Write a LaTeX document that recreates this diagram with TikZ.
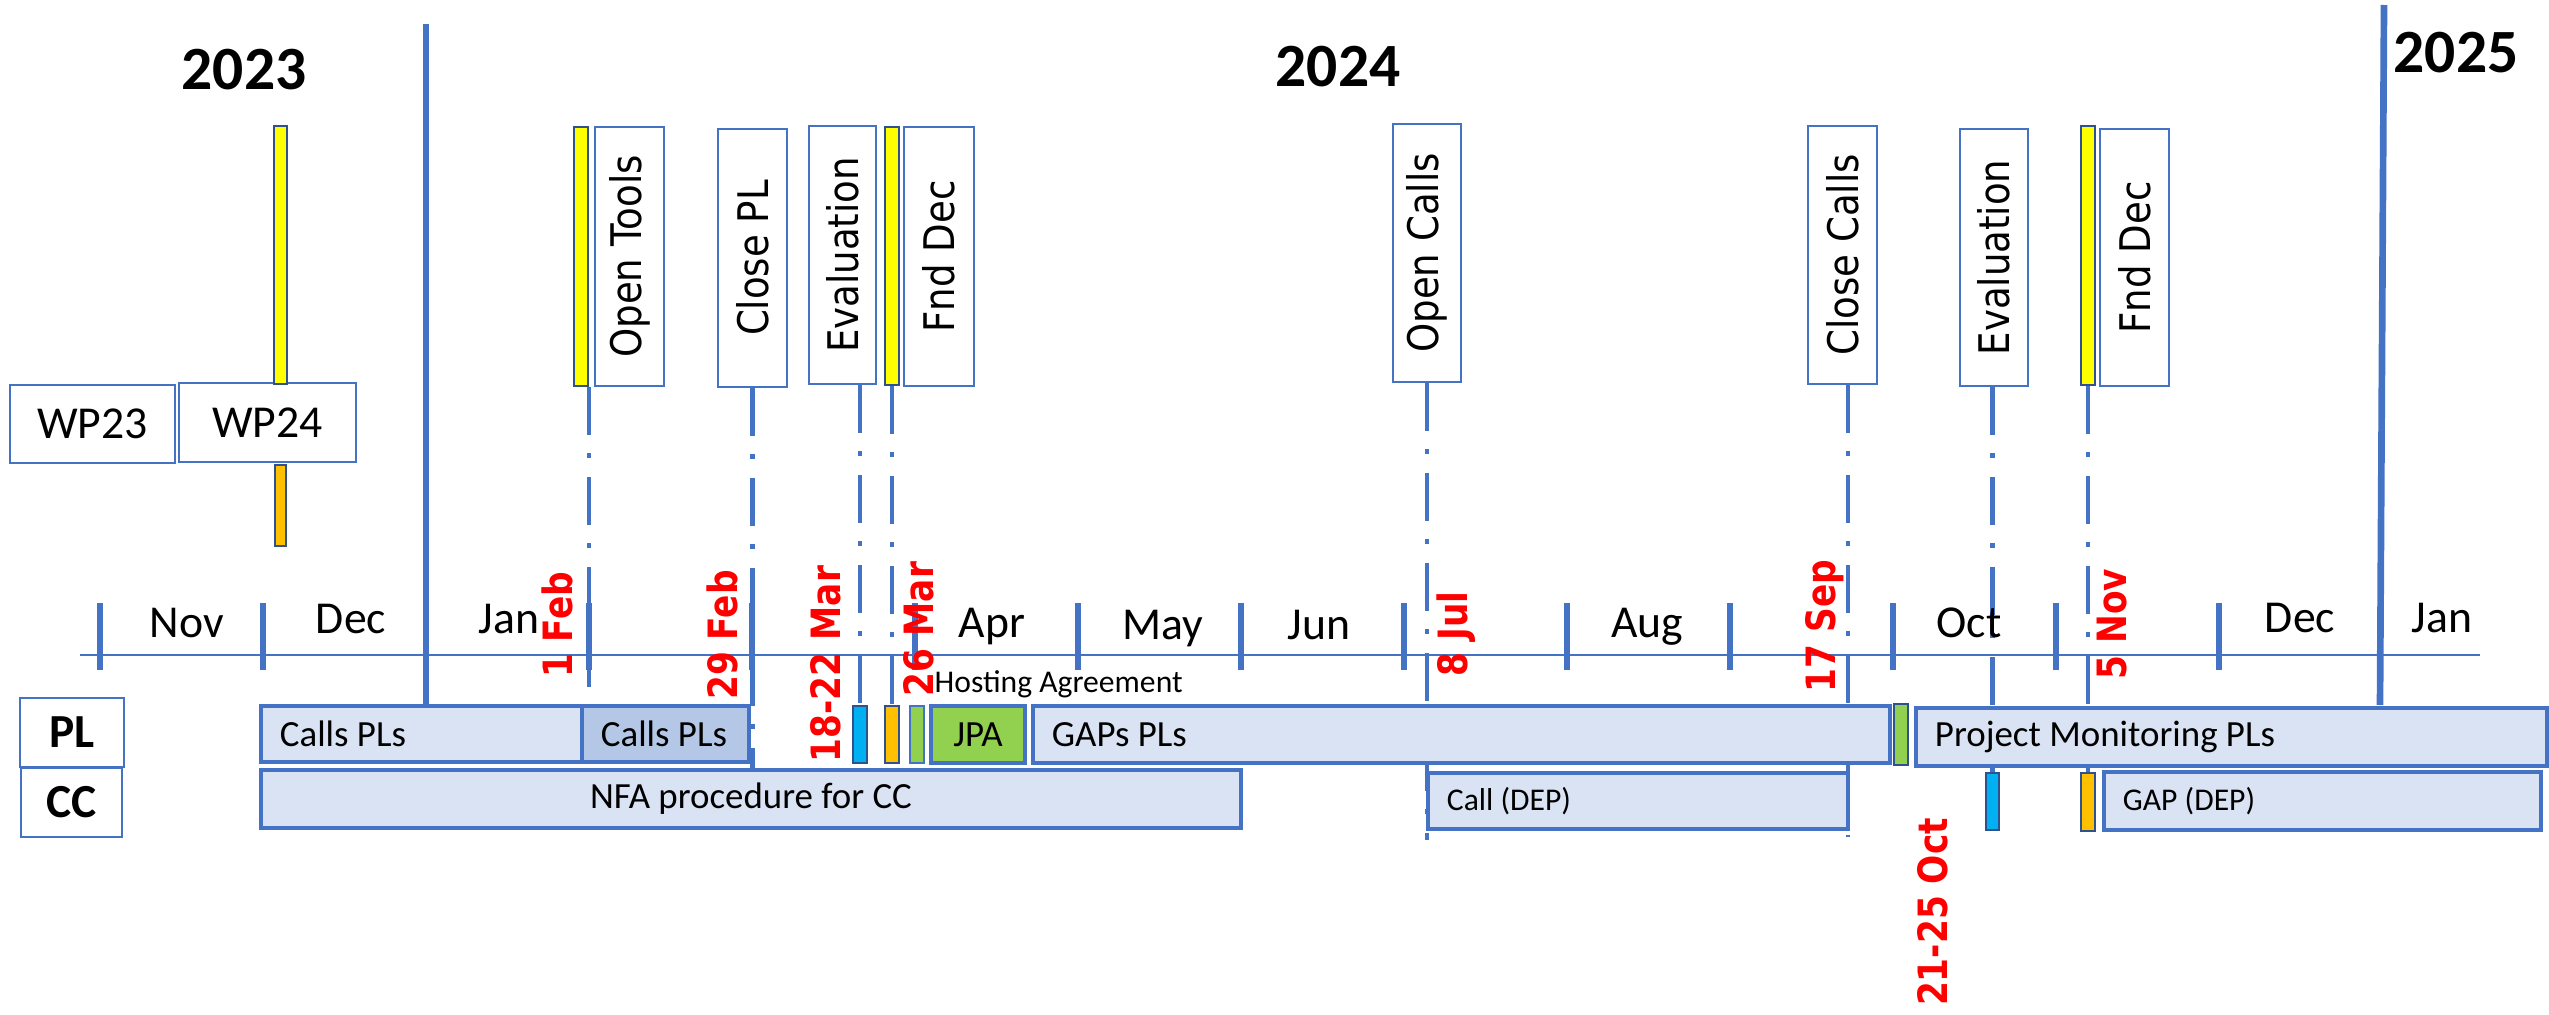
\documentclass[tikz,border=0pt]{standalone}
\usepackage{fontspec}
\setmainfont{Carlito}
\newfontfamily\labelfont[FakeStretch=0.88]{DejaVu Sans}
\newfontfamily\datefont[FakeStretch=0.85]{DejaVu Sans}
\usetikzlibrary{fit,backgrounds}

\definecolor{lineblue}{HTML}{4472C4}
\definecolor{phasefill}{HTML}{DAE3F3}
\definecolor{phasedark}{HTML}{B4C7E7}
\definecolor{markedge}{HTML}{2F528F}
\definecolor{markyellow}{HTML}{FFFF00}
\definecolor{markorange}{HTML}{FFC000}
\definecolor{markgreen}{HTML}{92D050}
\definecolor{markcyan}{HTML}{00B0F0}
\definecolor{datered}{HTML}{FF0000}

\begin{document}
\begin{tikzpicture}[x=0.1mm, y=-0.1mm, every node/.style={inner sep=0pt},
    phasebox/.style={draw=lineblue, fill=phasefill, line width=1pt},
    labelbox/.style={draw=lineblue, fill=white, line width=0.7pt},
    wpbox/.style={draw=lineblue, fill=white, line width=0.8pt},
    rowbox/.style={draw=lineblue, fill=white, line width=0.8pt},
    markbar/.style={draw=markedge, fill=#1, line width=0.7pt},
    vtext/.style={anchor=center, rotate=90, font=\labelfont\fontsize{12}{14}\selectfont},
    ctext/.style={anchor=center, font=\fontsize{10.5}{12}\selectfont},
    wptext/.style={anchor=center, font=\fontsize{13}{15}\selectfont},
    rowtext/.style={anchor=center, font=\bfseries\fontsize{13.5}{15}\selectfont},
    boxtext/.style={anchor=west, xshift=2mm, font=\fontsize{10.5}{12}\selectfont},
    smalltext/.style={anchor=west, xshift=2mm, font=\fontsize{9}{11}\selectfont},
    monthtext/.style={anchor=base, font=\fontsize{13}{15}\selectfont},
    yeartext/.style={anchor=base, font=\bfseries\fontsize{17.5}{20}\selectfont},
    datetext/.style={rotate=90, text=datered, font=\datefont\bfseries\fontsize{11.5}{13}\selectfont},
    yearline/.style={lineblue, line width=1.9pt},
    monthtick/.style={lineblue, line width=1.5pt},
    milestone/.style={lineblue, line width=1.4pt, dash pattern=on 13.7pt off 5.1pt on 1.4pt off 5.4pt}]
  \useasboundingbox (0,0) rectangle (2549,1015);

  % years
  \node[yeartext] (y23) at (244,89) {2023};
  \node[yeartext] (y24) at (1338,86) {2024};
  \node[yeartext] (y25) at (2456,73) {2025};

  % work programmes
  \node[wpbox, fit={(10,385) (175,463)}, label={[wptext]center:WP23}] (wp23) {};
  \node[wpbox, fit={(179,383) (356,462)}, label={[wptext]center:WP24}] (wp24) {};
  \node[markbar=markyellow, fit={(274,126) (287,384)}] (wpyellow) {};
  \node[markbar=markorange, fit={(275,465) (286,546)}] (wporange) {};

  % milestones on top
  \node[markbar=markyellow, fit={(574,127) (588,386)}] (otbar) {};
  \node[labelbox, fit={(595,127) (664,386)}, label={[vtext]center:Open Tools}] (opentools) {};
  \node[labelbox, fit={(718,129) (787,387)}, label={[vtext]center:Close PL}] (closepl) {};
  \node[labelbox, fit={(809,126) (876,384)}, label={[vtext]center:Evaluation}] (evala) {};
  \node[markbar=markyellow, fit={(885,127) (899,385)}] (fdbar) {};
  \node[labelbox, fit={(904,127) (974,386)}, label={[vtext]center:Fnd Dec}] (fnddec) {};
  \node[labelbox, fit={(1393,124) (1461,382)}, label={[vtext]center:Open Calls}] (opencalls) {};
  \node[labelbox, fit={(1808,126) (1877,384)}, label={[vtext]center:Close Calls}] (closecalls) {};
  \node[labelbox, fit={(1960,129) (2028,386)}, label={[vtext]center:Evaluation}] (evalb) {};
  \node[markbar=markyellow, fit={(2081,126) (2095,385)}] (fdbarb) {};
  \node[labelbox, fit={(2100,129) (2169,386)}, label={[vtext]center:Fnd Dec}] (fnddecb) {};

  % months
  \foreach \mx/\my/\mname in {187/637/Nov, 351/633/Dec, 509/633/Jan, 992/637/Apr, 1163/639/May,
      1319/639/Jun, 1647/637/Aug, 1969/637/Oct, 2300/632/Dec, 2442/632/Jan}
    \node[monthtext] (m\mx) at (\mx,\my) {\mname};

  % rows
  \node[rowbox, fit={(20,698) (124,767)}, label={[rowtext]center:PL}] (plrow) {};
  \node[rowbox, fit={(21,768) (122,837)}, label={[rowtext]center:CC}] (ccrow) {};

  \node[phasebox, fit={(261,706) (582,762)}, label={[boxtext]west:Calls PLs}] (callsa) {};
  \node[phasebox, fill=phasedark, fit={(582,706) (749,762)}, label={[boxtext]west:Calls PLs}] (callsb) {};
  \node[markbar=markcyan, fit={(853,706) (867,763)}] (evalmark) {};
  \node[markbar=markorange, fit={(885,706) (899,763)}] (fdmark) {};
  \node[markbar=markgreen, draw=lineblue, fit={(910,706) (924,763)}] (hamark) {};
  \node[phasebox, fill=markgreen, fit={(931,706) (1025,763)}, label={[ctext]center:JPA}] (jpa) {};
  \node[phasebox, fit={(1033,706) (1890,763)}, label={[boxtext]west:GAPs PLs}] (gaps) {};
  \node[markbar=markgreen, fit={(1894,704) (1908,765)}] (gapmark) {};
  \node[phasebox, fit={(1916,708) (2547,766)}, label={[boxtext]west:Project Monitoring PLs}] (monitor) {};
  \node[anchor=base west, font=\fontsize{9}{11}\selectfont] (hosting) at (934,692) {Hosting Agreement};

  \node[phasebox, fit={(261,770) (1241,828)}, label={[ctext]center:NFA procedure for CC}] (nfa) {};
  \node[phasebox, fit={(1428,773) (1848,829)}, label={[smalltext]west:Call (DEP)}] (calldep) {};
  \node[markbar=markcyan, fit={(1986,773) (1999,830)}] (evalmarkb) {};
  \node[markbar=markorange, fit={(2081,773) (2095,831)}] (fdmarkb) {};
  \node[phasebox, fit={(2104,772) (2541,830)}, label={[smalltext]west:GAP (DEP)}] (gapdep) {};

  % dates
  \node[datetext] (d1feb) at (557,625) {1 Feb};
  \node[datetext] (d29feb) at (722,635) {29 Feb};
  \node[datetext] (d18mar) at (826,664) {18-22 Mar};
  \node[datetext] (d26mar) at (919,629) {26 Mar};
  \node[datetext] (d8jul) at (1456,634) {8 Jul};
  \node[datetext] (d17sep) at (1825,626) {17 Sep};
  \node[datetext] (d5nov) at (2112,624) {5 Nov};
  \node[datetext] (d21oct) at (1933,912) {21-25 Oct};

  \coordinate (otend) at (589,687);
  \coordinate (ocend) at (1429,840);
  \coordinate (ccend) at (1848,837);

  \begin{scope}[on background layer]
    % time axis
    \draw[lineblue, line width=0.6pt] (80,655) -- (2480,655);
    \foreach \k in {0,1,3,4,...,13}
      \draw[monthtick] (100+163*\k,603) -- (100+163*\k,670);
    \draw[yearline] (426,24) -- (426,705);
    \draw[yearline] (2384,5) -- (2380,705);
    % milestone lines
    \draw[milestone] (otend |- otbar.south) -- (otend);
    \draw[milestone] (closepl.south) -- (closepl.south |- nfa.north);
    \draw[milestone] (evala.south -| evalmark.north) -- (evalmark.north);
    \draw[milestone] (fdbar.south) -- (fdmark.north);
    \draw[milestone] (opencalls.south) -- (opencalls.south |- ocend);
    \draw[milestone] (closecalls.south -| ccend) -- (ccend);
    \draw[milestone] (evalb.south -| evalmarkb.north) -- (evalmarkb.north);
    \draw[milestone] (fdbarb.south) -- (fdmarkb.north);
  \end{scope}
\end{tikzpicture}
\end{document}
